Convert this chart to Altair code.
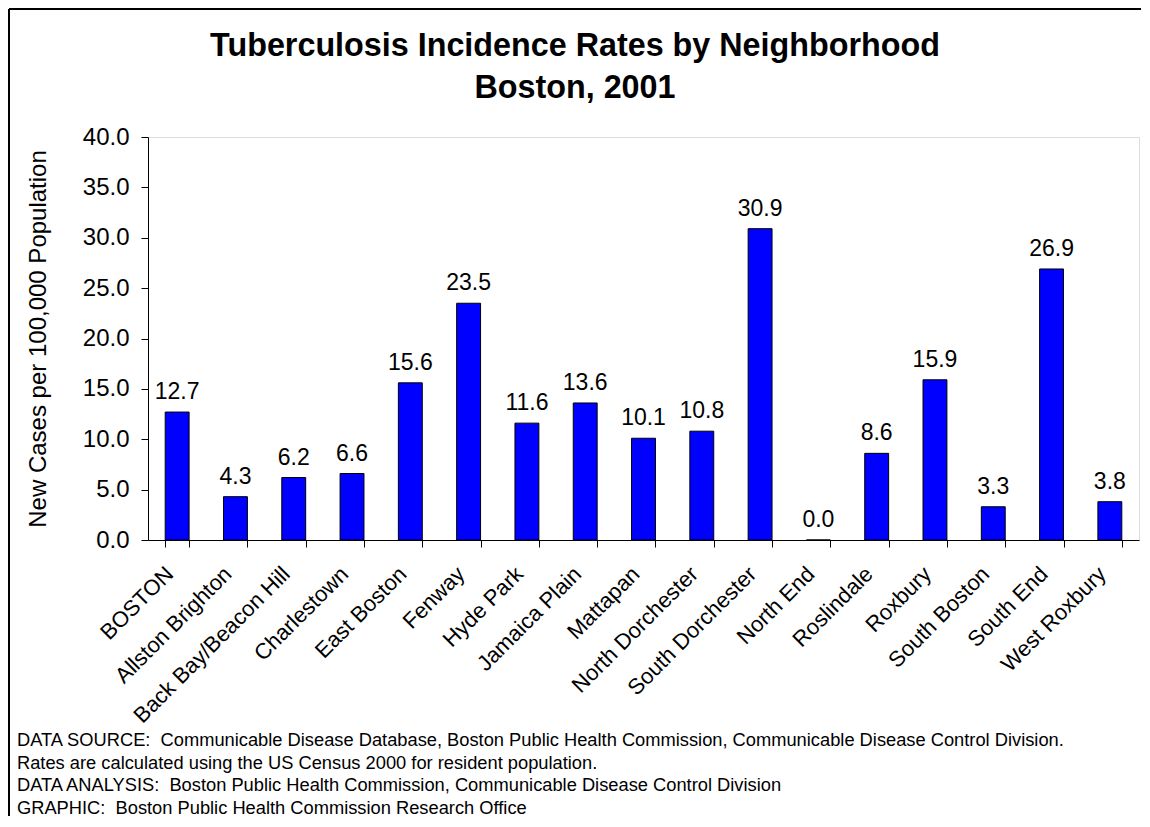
import altair as alt
import pandas as pd

neighborhoods = ["BOSTON", "Allston Brighton", "Back Bay/Beacon Hill", "Charlestown",
                 "East Boston", "Fenway", "Hyde Park", "Jamaica Plain", "Mattapan",
                 "North Dorchester", "South Dorchester", "North End", "Roslindale",
                 "Roxbury", "South Boston", "South End", "West Roxbury"]
rates = [12.7, 4.3, 6.2, 6.6, 15.6, 23.5, 11.6, 13.6, 10.1,
         10.8, 30.9, 0.0, 8.6, 15.9, 3.3, 26.9, 3.8]
y_ticks = [0, 5, 10, 15, 20, 25, 30, 35, 40]
title_lines = ["Tuberculosis Incidence Rates by Neighborhood", "Boston, 2001"]
y_title = "New Cases per 100,000 Population"
footnotes = [
    "DATA SOURCE:\u00a0 Communicable Disease Database, Boston Public Health Commission, Communicable Disease Control Division.",
    "Rates are calculated using the US Census 2000 for resident population.",
    "DATA ANALYSIS:\u00a0 Boston Public Health Commission, Communicable Disease Control Division",
    "GRAPHIC:\u00a0 Boston Public Health Commission Research Office",
]

FONT = "Liberation Sans"
W, H = 991, 403
PAD_L, PAD_T, PAD_R, PAD_B = 140, 129, 2, 276

df = pd.DataFrame({"n": neighborhoods, "rate": rates})

x = alt.X("n:N", sort=neighborhoods,
          scale=alt.Scale(paddingInner=0.59, paddingOuter=0.295),
          axis=alt.Axis(title=None, labelAngle=315, labelFont=FONT, labelFontSize=22,
                        labelColor="black", tickBand="extent", tickSize=7, tickColor="black",
                        domainColor="black", labelPadding=16, labelOffset=-15,
                        labelLimit=400))
y = alt.Y("rate:Q", scale=alt.Scale(domain=[0, 40], nice=False),
          axis=alt.Axis(title=y_title, values=y_ticks, format=".1f", grid=False,
                        labelFont=FONT, labelFontSize=24, labelColor="black",
                        tickSize=7, tickColor="black", domainColor="black", labelPadding=12,
                        titleFont=FONT, titleFontSize=24, titleFontWeight="normal",
                        titleColor="black", titleAngle=270, titleAlign="center",
                        titleBaseline="middle", titleX=-110, titleY=H / 2))

bars = alt.Chart(df).mark_bar(color="#0000FF", stroke="black", strokeWidth=1).encode(x=x, y=y)
labels = alt.Chart(df).mark_text(font=FONT, fontSize=23, color="black",
                                 baseline="alphabetic", dy=-13).encode(
    x=alt.X("n:N", sort=neighborhoods), y="rate:Q", text=alt.Text("rate:Q", format=".1f"))

one = alt.Data(values=[{}])
title = alt.Chart(one).mark_text(font=FONT, fontSize=32.3, fontWeight="bold", color="black",
                                 align="center", baseline="alphabetic", lineHeight=42).encode(
    x=alt.value(427), y=alt.value(-81), text=alt.value(title_lines))
notes = alt.Chart(one).mark_text(font=FONT, fontSize=18.3, color="black", align="left",
                                 baseline="alphabetic", lineHeight=22.5).encode(
    x=alt.value(-131), y=alt.value(609), text=alt.value(footnotes))
frame_left = alt.Chart(one).mark_rule(color="black", strokeWidth=2).encode(
    x=alt.value(-139), y=alt.value(-128), y2=alt.value(H + PAD_B))
frame_top = alt.Chart(one).mark_rule(color="black", strokeWidth=2).encode(
    x=alt.value(-139), x2=alt.value(W + PAD_R + 5), y=alt.value(-128))

chart = alt.layer(bars, labels, title, notes, frame_left, frame_top).properties(
    width=W, height=H,
    autosize=alt.AutoSizeParams(type="none"),
    padding={"left": PAD_L, "top": PAD_T, "right": PAD_R, "bottom": PAD_B},
).configure_view(stroke="#808080", strokeWidth=1).configure(background="white")

chart.save("out.html", embed_options={"renderer": "svg", "actions": False})
